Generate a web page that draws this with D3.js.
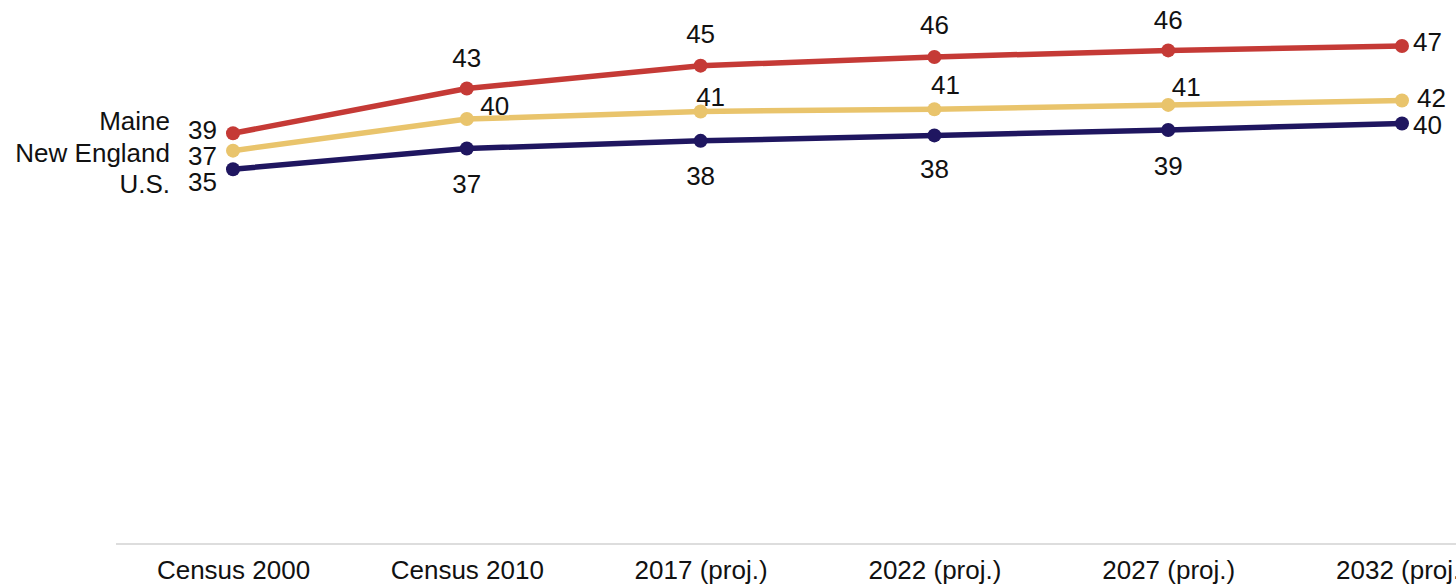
<!DOCTYPE html>
<html>
<head>
<meta charset="utf-8">
<script src="https://cdn.jsdelivr.net/npm/d3@7"></script>
<style>
  body { margin: 0; background: #fff; }
  text { font-family: "Liberation Sans", Arial, Helvetica, sans-serif; fill: #111; }
</style>
</head>
<body>
<div id="chart"></div>
<script>
// median age
let years = ['Census 2000', 'Census 2010', '2017 (proj.)', '2022 (proj.)', '2027 (proj.)', '2032 (proj.)'];
let maine = [38.6, 42.7, 44.8, 45.6, 46.2, 46.6];
let newEngland = [37.0, 39.9, 40.6, 40.8, 41.2, 41.6];
let us = [35.3, 37.2, 37.9, 38.4, 38.9, 39.5];

let seriesNames = ['Maine', 'New England', 'U.S.'];
let seriesColors = ['#c53a36', '#e9c46c', '#1f1660'];

let series = [
    {name: seriesNames[0], values: maine, color: seriesColors[0]},
    {name: seriesNames[1], values: newEngland, color: seriesColors[1]},
    {name: seriesNames[2], values: us, color: seriesColors[2]}
];

let svgWidth = 1456;
let svgHeight = 586;
let fontSize = '26px';

let svg = d3.select('#chart')
            .append('svg')
                .attr('width', svgWidth)
                .attr('height', svgHeight);

let x = d3.scalePoint()
            .domain(years)
            .range([233, 1402]);

let y = d3.scaleLinear()
            .domain([1, 50])
            .range([543, 9]);

// baseline
svg.append('line')
    .attr('x1', 116)
    .attr('x2', svgWidth)
    .attr('y1', 544)
    .attr('y2', 544)
    .attr('stroke', '#dddddd')
    .attr('stroke-width', 2);

// x axis labels
let xAxis = d3.axisBottom(x).tickSize(0).tickPadding(0);
let gx = svg.append('g')
    .attr('transform', 'translate(0,558)')
    .call(xAxis);
gx.select('.domain').remove();
gx.selectAll('text')
    .attr('dy', null)
    .attr('y', 21)
    .style('font-size', fontSize)
    .style('fill', '#111')
    .style('font-family', '"Liberation Sans", Arial, sans-serif');

let line = d3.line()
    .x((d, i) => x(years[i]))
    .y(d => y(d));

let g = svg.selectAll('g.series')
    .data(series)
    .join('g')
        .attr('class', 'series');

g.append('path')
    .attr('d', d => line(d.values))
    .attr('fill', 'none')
    .attr('stroke', d => d.color)
    .attr('stroke-width', 5.5)
    .attr('stroke-linejoin', 'round');

g.selectAll('circle')
    .data(d => d.values.map(v => ({v: v, color: d.color})))
    .join('circle')
        .attr('cx', (d, i) => x(years[i]))
        .attr('cy', d => y(d.v))
        .attr('r', 7)
        .attr('fill', d => d.color);

// value labels
let fmt = v => Math.round(v);
// offsets for middle labels: Maine above, NE above right, US below
let midOffsets = [
    [[0, -31], [0, -32], [0, -32], [0, -31]],
    [[28, -13], [10, -15], [11, -24], [18, -18]],
    [[0, 35], [0, 35], [0, 33], [0, 36]]
];
// first point: labels stacked to the left
let firstDy = [-3, 5, 13];
let nameDy = [-12, 2, 15];
let lastDy = [-4, -3, 1];

series.forEach((s, si) => {
    let vals = s.values;
    let last = vals.length - 1;

    svg.append('text')
        .attr('x', x(years[0]) - 16)
        .attr('y', y(vals[0]) + firstDy[si])
        .attr('dy', '0.35em')
        .attr('text-anchor', 'end')
        .style('font-size', fontSize)
        .text(fmt(vals[0]));

    svg.append('text')
        .attr('x', x(years[0]) - 63)
        .attr('y', y(vals[0]) + nameDy[si])
        .attr('dy', '0.35em')
        .attr('text-anchor', 'end')
        .style('font-size', fontSize)
        .text(s.name);

    for (let i = 1; i < last; i++) {
        let off = midOffsets[si][i - 1];
        svg.append('text')
            .attr('x', x(years[i]) + off[0])
            .attr('y', y(vals[i]) + off[1])
            .attr('dy', '0.35em')
            .attr('text-anchor', 'middle')
            .style('font-size', fontSize)
            .text(fmt(vals[i]));
    }

    svg.append('text')
        .attr('x', x(years[last]) + (si === 1 ? 15 : 11))
        .attr('y', y(vals[last]) + lastDy[si])
        .attr('dy', '0.35em')
        .attr('text-anchor', 'start')
        .style('font-size', fontSize)
        .text(fmt(vals[last]));
});
</script>
</body>
</html>
